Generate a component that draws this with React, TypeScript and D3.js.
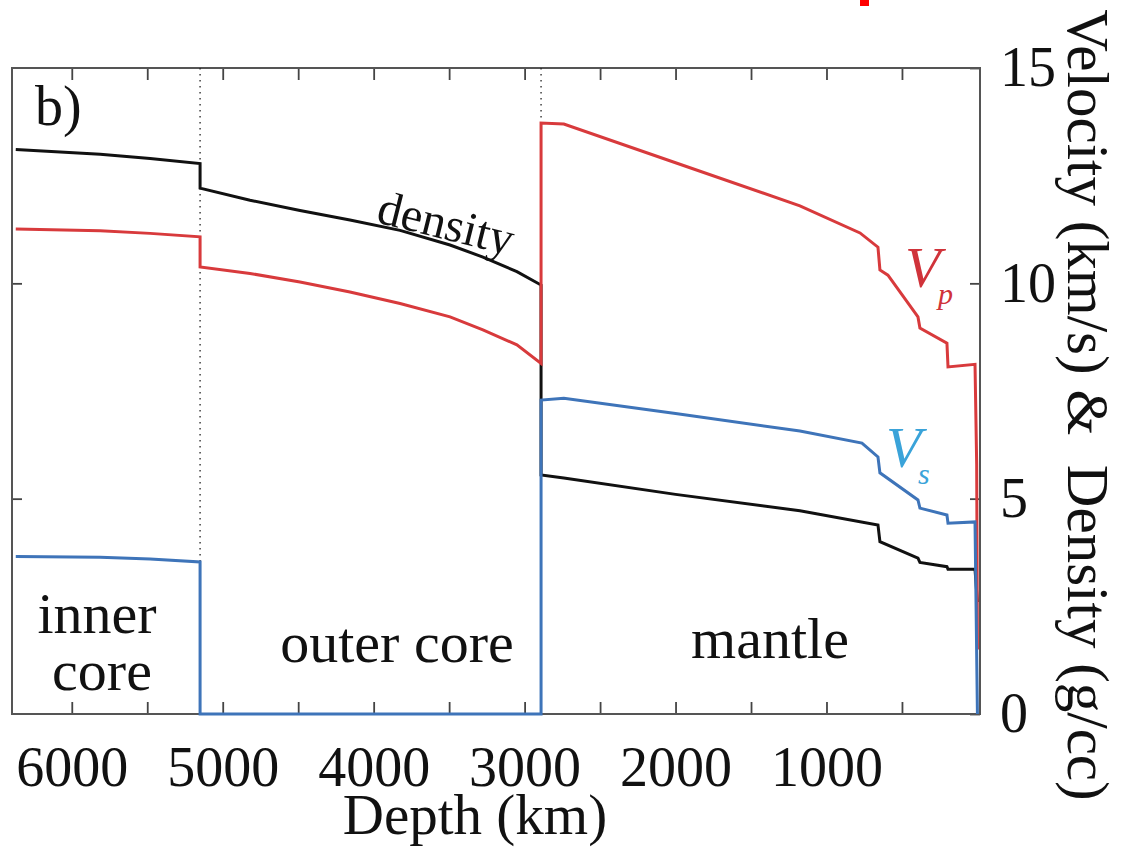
import React, { useEffect, useRef } from "react";
import * as d3 from "d3";

// depth (km) / value pairs, duplicated depths = discontinuities
const densityDepth = [6371, 5812, 5481, 5150, 5150, 4819, 4488, 4157, 3825, 3494, 3276, 3051, 2891, 2891, 2740, 2000, 1176, 659, 646, 394, 381, 202, 195, 16, 0];
const densityValue = [13.11, 13.0, 12.9, 12.78, 12.21, 11.93, 11.69, 11.47, 11.23, 10.89, 10.61, 10.27, 9.96, 5.55, 5.48, 5.1, 4.72, 4.39, 4.0, 3.62, 3.52, 3.42, 3.36, 3.36, 2.6];

const vpDepth = [6371, 5812, 5481, 5150, 5150, 4819, 4488, 4157, 3825, 3494, 3276, 3051, 2891, 2891, 2740, 2000, 1176, 778, 659, 646, 593, 394, 381, 202, 195, 16, 5, 0];
const vpValue = [11.26, 11.22, 11.16, 11.08, 10.38, 10.23, 10.03, 9.8, 9.53, 9.22, 8.92, 8.57, 8.14, 13.72, 13.7, 12.8, 11.8, 11.17, 10.84, 10.31, 10.19, 9.22, 8.96, 8.61, 8.06, 8.12, 5.8, 1.5];

const vsDepth = [6371, 5812, 5481, 5150, 5150, 2891, 2891, 2740, 2000, 1176, 765, 659, 646, 394, 381, 202, 195, 16, 0];
const vsValue = [3.66, 3.64, 3.6, 3.53, 0, 0, 7.29, 7.33, 6.98, 6.57, 6.29, 5.97, 5.6, 4.97, 4.78, 4.62, 4.43, 4.46, 0];

const boundaries = [5150, 2891];
const depthTicks = [500, 1000, 1500, 2000, 2500, 3000, 3500, 4000, 4500, 5000, 5500, 6000];
const valueTicks = [0, 5, 10, 15];

const W = 1121;
const H = 849;
const FONT = "'Liberation Serif', 'Times New Roman', serif";

export default function App() {
  const svgRef = useRef<SVGSVGElement>(null);

  useEffect(() => {
    const svg = d3.select(svgRef.current);
    svg.selectAll("*").remove();

    const x = d3.scaleLinear().domain([6396, -17]).range([12, 980]);
    const y = d3.scaleLinear().domain([0, 15]).range([714, 68]);

    svg.append("rect").attr("x", 860).attr("y", 0).attr("width", 9).attr("height", 6).attr("fill", "#ff0000");

    // bottom axis
    const bottom = svg.append("g")
      .attr("transform", `translate(0,${y(0)})`)
      .call(
        d3.axisBottom(x)
          .tickValues(depthTicks)
          .tickSizeInner(-12)
          .tickSizeOuter(0)
          .tickPadding(32)
          .tickFormat((d) => (+d % 1000 === 0 ? String(d) : ""))
      );

    const top = svg.append("g")
      .attr("transform", `translate(0,${y(15)})`)
      .call(d3.axisTop(x).tickValues(depthTicks).tickSizeInner(-12).tickSizeOuter(0).tickFormat(() => ""));

    const right = svg.append("g")
      .attr("transform", `translate(${x.range()[1]},0)`)
      .call(d3.axisRight(y).tickValues(valueTicks).tickSizeInner(-10).tickSizeOuter(0).tickPadding(20));

    const left = svg.append("g")
      .attr("transform", `translate(${x.range()[0]},0)`)
      .call(d3.axisLeft(y).tickValues([5, 10]).tickSizeInner(-10).tickSizeOuter(0).tickFormat(() => ""));

    [bottom, top, right, left].forEach((g) => {
      g.select(".domain").remove();
      g.attr("color", "#444").attr("font-family", FONT).attr("font-size", 56);
      g.selectAll(".tick line").attr("stroke-width", 1.8);
      g.selectAll(".tick text").attr("fill", "#111");
    });

    // frame
    svg.append("rect")
      .attr("x", x.range()[0])
      .attr("y", y(15))
      .attr("width", x.range()[1] - x.range()[0])
      .attr("height", y(0) - y(15))
      .attr("fill", "none")
      .attr("stroke", "#555")
      .attr("stroke-width", 2);

    // layer boundaries
    svg.selectAll(".bnd")
      .data(boundaries)
      .enter()
      .append("line")
      .attr("x1", (d) => x(d))
      .attr("x2", (d) => x(d))
      .attr("y1", y(15))
      .attr("y2", y(0))
      .attr("stroke", "#222")
      .attr("stroke-width", 1.3)
      .attr("stroke-dasharray", "1.5,4.5");

    const line = d3.line<[number, number]>()
      .x((d) => x(d[0]))
      .y((d) => y(d[1]));

    const series = [
      { depth: densityDepth, value: densityValue, color: "#111111" },
      { depth: vpDepth, value: vpValue, color: "#d83a3c" },
      { depth: vsDepth, value: vsValue, color: "#3e74b9" },
    ];
    series.forEach((s) => {
      svg.append("path")
        .datum(s.depth.map((d, i) => [d, s.value[i]] as [number, number]))
        .attr("d", line)
        .attr("fill", "none")
        .attr("stroke", s.color)
        .attr("stroke-width", 3)
        .attr("stroke-linejoin", "miter");
    });

    const txt = (t: string, tx: number, ty: number, size: number, opts: any = {}) =>
      svg.append("text")
        .attr("x", tx)
        .attr("y", ty)
        .attr("font-family", FONT)
        .attr("font-size", size)
        .attr("fill", opts.fill || "#111")
        .attr("font-style", opts.italic ? "italic" : "normal")
        .attr("text-anchor", opts.anchor || "start")
        .attr("transform", opts.transform || null)
        .text(t);

    txt("b)", 35, 125, 56);
    txt("inner", 97, 633, 58, { anchor: "middle" });
    txt("core", 102, 690, 58, { anchor: "middle" });
    txt("outer core", 397, 662, 58, { anchor: "middle" });
    txt("mantle", 770, 658, 58, { anchor: "middle" });
    txt("density", 0, 0, 48, { transform: "translate(375,222) rotate(14)" });

    txt("V", 905, 287, 58, { italic: true, fill: "#d0333a" });
    txt("p", 938, 304, 30, { italic: true, fill: "#d0333a" });
    txt("V", 886, 467, 58, { italic: true, fill: "#3aa3d9" });
    txt("s", 918, 484, 30, { italic: true, fill: "#3aa3d9" });

    txt("Depth (km)", 475, 834, 57, { anchor: "middle" });
    txt("Velocity (km/s) &\u00a0 Density (g/cc)", 0, 0, 59, {
      anchor: "middle",
      transform: "translate(1068,405) rotate(90)",
    });
  }, []);

  return (
    <svg
      ref={svgRef}
      width={W}
      height={H}
      style={{ position: "absolute", left: 0, top: 0, background: "#fff" }}
    />
  );
}
